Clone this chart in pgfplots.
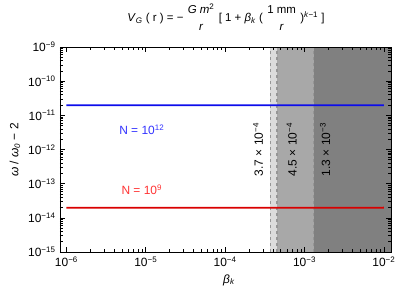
\documentclass[border=0pt]{standalone}
\usepackage{amsmath}
\usepackage{pgfplots}
\pgfplotsset{compat=1.18}
\usepackage{fontspec}
\setmainfont{Liberation Sans}
\definecolor{myblue}{rgb}{0.05,0.05,0.92}
\definecolor{labblue}{rgb}{0.2,0.2,1}
\definecolor{myred}{rgb}{0.85,0,0}
\definecolor{labred}{rgb}{1,0.2,0.2}
\definecolor{shA}{RGB}{220,220,220}
\definecolor{shB}{RGB}{168,168,168}
\definecolor{shC}{RGB}{128,128,128}
\definecolor{dashc}{RGB}{150,150,150}
\newcommand{\tl}[1]{10\textsuperscript{#1}}
\newcommand{\fs}{\fontsize{12}{14}\selectfont}
\begin{document}
\begin{tikzpicture}[x=1bp,y=1bp]
\path[use as bounding box] (0,0) rectangle (399,299);
\begin{axis}[
  at={(60bp,47bp)}, anchor=south west, scale only axis,
  width=331bp, height=205bp,
  xmode=log, ymode=log,
  xmin=8.3e-7, xmax=1.23e-2, ymin=1e-15, ymax=1e-9,
  xtick={1e-6,1e-5,1e-4,1e-3,1e-2},
  xticklabels={\tl{−6},\tl{−5},\tl{−4},\tl{−3},\tl{−2}},
  ytick={1e-15,1e-14,1e-13,1e-12,1e-11,1e-10,1e-9},
  yticklabels={\tl{−15},\tl{−14},\tl{−13},\tl{−12},\tl{−11},\tl{−10},\tl{−9}},
  minor xtick={2e-6,3e-6,4e-6,5e-6,6e-6,7e-6,8e-6,9e-6,
               2e-5,3e-5,4e-5,5e-5,6e-5,7e-5,8e-5,9e-5,
               2e-4,3e-4,4e-4,5e-4,6e-4,7e-4,8e-4,9e-4,
               2e-3,3e-3,4e-3,5e-3,6e-3,7e-3,8e-3,9e-3},
  minor ytick={2e-15,3e-15,4e-15,5e-15,6e-15,7e-15,8e-15,9e-15,
               2e-14,3e-14,4e-14,5e-14,6e-14,7e-14,8e-14,9e-14,
               2e-13,3e-13,4e-13,5e-13,6e-13,7e-13,8e-13,9e-13,
               2e-12,3e-12,4e-12,5e-12,6e-12,7e-12,8e-12,9e-12,
               2e-11,3e-11,4e-11,5e-11,6e-11,7e-11,8e-11,9e-11,
               2e-10,3e-10,4e-10,5e-10,6e-10,7e-10,8e-10,9e-10},
  tick align=inside,
  major tick length=5bp, minor tick length=2.8bp,
  every tick/.style={black, line width=0.6pt},
  axis line style={black, line width=0.8pt},
  tick label style={font=\fs},
  xticklabel style={yshift=-1bp},
  yticklabel style={xshift=-1bp},
  axis on top,
]
\addplot[fill=shA, draw=none] coordinates {(3.7e-4,1e-15) (3.7e-4,1e-9) (4.5e-4,1e-9) (4.5e-4,1e-15)} -- cycle;
\addplot[fill=shB, draw=none] coordinates {(4.5e-4,1e-15) (4.5e-4,1e-9) (1.3e-3,1e-9) (1.3e-3,1e-15)} -- cycle;
\addplot[fill=shC, draw=none] coordinates {(1.3e-3,1e-15) (1.3e-3,1e-9) (2e-2,1e-9) (2e-2,1e-15)} -- cycle;
\addplot[draw=dashc, dash pattern=on 3.5bp off 2.5bp, line width=1.1bp] coordinates {(3.7e-4,1e-15) (3.7e-4,1e-9)};
\addplot[draw=dashc, dash pattern=on 3.5bp off 2.5bp, line width=1.1bp] coordinates {(4.5e-4,1e-15) (4.5e-4,1e-9)};
\addplot[draw=dashc, dash pattern=on 3.5bp off 2.5bp, line width=1.1bp] coordinates {(1.3e-3,1e-15) (1.3e-3,1e-9)};
\addplot[draw=myblue, line width=1.8bp] coordinates {(1e-6,1.97e-11) (1e-5,1.972e-11) (1e-4,1.968e-11) (1e-3,1.971e-11) (1e-2,1.969e-11)};
\addplot[draw=myred, line width=1.8bp] coordinates {(1e-6,1.98e-14) (1e-5,1.982e-14) (1e-4,1.978e-14) (1e-3,1.981e-14) (9e-3,1.979e-14) (1e-2,1.99e-14)};
\node[rotate=90, font=\fs] at (axis cs:2.6e-4,1e-12) {3.7 × \tl{−4}};
\node[rotate=90, font=\fs] at (axis cs:6.9e-4,1e-12) {4.5 × \tl{−4}};
\node[rotate=90, font=\fs] at (axis cs:1.82e-3,1e-12) {1.3 × \tl{−3}};
\node[text=labblue, font=\fs] at (axis cs:8.9e-6,3.7e-12) {N = \tl{12}};
\node[text=labred, font=\fs] at (axis cs:8.9e-6,6.5e-14) {N = \tl{9}};
\end{axis}
\node[font=\fontsize{11.5}{13}\selectfont] at (226,282) {\textit{V}\textsubscript{\textit{G}} ( r ) = − $\genfrac{}{}{0pt}{0}{\mbox{\textit{G m}\textsuperscript{2}}}{\mbox{\textit{r}}}$ [ 1 + \textit{β}\textsubscript{\textit{k}} ( $\genfrac{}{}{0pt}{0}{\mbox{1 mm}}{\mbox{\textit{r}}}$ )\textsuperscript{\textit{k}−1} ]};
\node[rotate=90, font=\fs] at (15,149) {\textit{ω} / \textit{ω}\textsubscript{\textit{0}} − 2};
\node[font=\fs] at (229,19) {\textit{β}\textsubscript{\textit{k}}};
\end{tikzpicture}
\end{document}
